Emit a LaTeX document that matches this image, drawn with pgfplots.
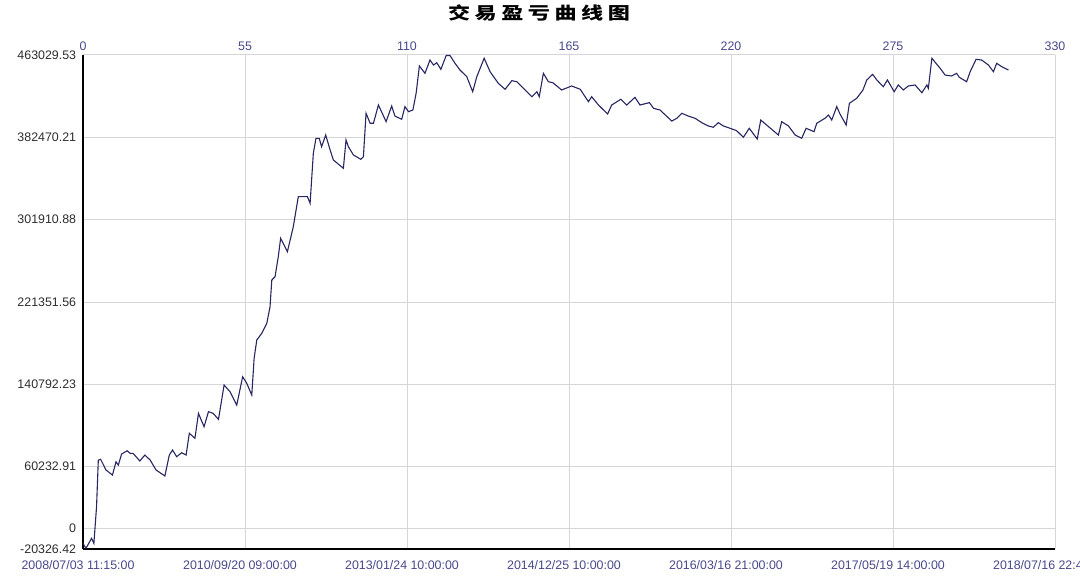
\documentclass[border=0pt]{standalone}
\usepackage{pgfplots}
\pgfplotsset{compat=1.18}
\usepackage{graphicx}
\usepackage{fontspec}
\setmainfont{Liberation Sans}
\newfontfamily\cjk{Noto Sans CJK SC}
\definecolor{gridc}{RGB}{214,214,218}
\definecolor{lblue}{RGB}{72,72,140}
\definecolor{ylab}{RGB}{45,45,45}
\definecolor{curve}{RGB}{38,38,98}
\begin{document}
\begin{tikzpicture}
\begin{axis}[
  scale only axis,
  width=486pt, height=247pt,
  xmin=0, xmax=330,
  ymin=-20326.42, ymax=463029.53,
  axis x line*=bottom, axis y line*=left,
  axis line style={-, black, line width=0.7pt},
  xtick={0,55,110,165,220,275,330},
  xticklabels={2008/07/03 11:15:00, 2010/09/20 09:00:00, 2013/01/24 10:00:00, 2014/12/25 10:00:00, 2016/03/16 21:00:00, 2017/05/19 14:00:00, 2018/07/16 22:45:00},
  ytick={-20326.42,0,60232.91,140792.23,221351.56,301910.88,382470.21,463029.53},
  yticklabels={-20326.42,0,60232.91,140792.23,221351.56,301910.88,382470.21,463029.53},
  scaled ticks=false,
  major tick length=0pt,
  grid=major,
  major grid style={gridc, line width=0.5pt},
  xticklabel style={font=\fontsize{6.2}{7}\selectfont, text=lblue, anchor=center, inner sep=0pt, yshift=-8pt, xshift=-2.5pt},
  yticklabel style={font=\fontsize{6.2}{7}\selectfont, text=ylab, anchor=east, inner sep=0pt, xshift=-3.25pt},
  clip=false,
]
\addplot[curve, line width=0.55pt] coordinates {
(0,-14800) (1.0,-19700) (2.9,-9900) (3.7,-14800) (4.6,21000) (5.2,66700) (6.0,67400) (7.8,57000)
(10.0,52000) (11.2,65000) (12.0,61800) (13.1,72600) (15.0,75800) (16.0,73300) (17.0,73300) (19.3,65800)
(21.0,71600) (22.8,66700) (24.8,57000) (27.8,51100) (29.3,71600) (30.4,76500) (31.8,70000) (33.5,73900)
(35.0,71600) (36.1,92900) (38.0,88000) (39.2,112400) (41.1,99300) (42.6,114000) (44.2,112400) (46.0,106500)
(47.9,140100) (49.9,133600) (52.2,120500) (54.2,148200) (55.6,141800) (57.3,130300) (58.1,166200) (59.0,184200)
(60.7,190700) (62.4,200500) (63.5,216700) (64.1,242900) (65.2,246100) (66.3,265700) (67.1,283700) (69.4,270600)
(71.4,295000) (73.1,324400) (76.2,324400) (77.1,317900) (78.2,366800) (79.1,381500) (80.2,381500) (81.0,373300)
(82.4,384700) (83.9,370100) (85.0,360300) (88.4,352200) (89.3,379900) (90.1,373300) (91.8,365200) (94.3,361000)
(95.2,363500) (96.1,406000) (97.5,396200) (98.6,396200) (100.3,414100) (102.9,397800) (104.8,413100) (105.9,403300)
(108.2,400100) (109.3,412500) (110.5,407600) (112.0,409200) (113.1,425600) (114.2,452300) (116.1,445100) (117.8,458100)
(119.0,453200) (120.1,455500) (121.5,449000) (123.3,462500) (124.6,462500) (126.3,454900) (128.0,448300) (130.3,441800)
(132.3,427100) (133.7,441800) (136.2,459800) (138.2,446700) (141.0,435300) (143.3,429500) (145.6,437900) (147.3,436900)
(152.4,422200) (154.1,427100) (154.9,422200) (156.3,445100) (158.0,436900) (159.5,435900) (162.5,428800) (165.9,432700)
(168.8,429500) (171.6,417300) (172.7,422200) (175.0,414100) (178.1,405300) (179.5,414100) (182.6,419700) (184.6,414100)
(187.4,421600) (189.1,414100) (192.3,416400) (193.7,410900) (195.9,409200) (199.9,398400) (201.6,401100) (203.3,406000)
(205.5,403300) (207.8,401100) (210.1,396800) (212.3,393600) (214.0,392300) (215.7,396800) (217.4,393600) (219.7,391300)
(221.9,389000) (224.2,382500) (226.2,391300) (228.9,380800) (230.1,399400) (236.1,384700) (237.2,397800) (239.5,393600)
(241.8,384700) (244.0,381500) (245.5,391300) (248.2,388000) (249.1,396200) (251.9,401100) (253.1,404300) (254.2,399400)
(255.9,412500) (257.0,405300) (259.1,394500) (260.2,415800) (262.7,420700) (264.8,428800) (266.1,438600) (268.1,444100)
(269.5,438600) (271.7,432000) (273.1,438600) (275.4,427100) (276.8,433700) (278.5,428800) (280.2,432700) (282.5,433700)
(284.8,426100) (286.5,433700) (287.0,430400) (288.2,459800) (291.0,450000) (292.7,443400) (294.9,442500) (296.6,445100)
(297.5,441200) (300.0,436900) (301.2,446700) (303.2,458800) (305.1,458100) (307.4,453200) (309.1,446700) (310.2,454900)
(311.9,451600) (314.2,448300)
};
\end{axis}
\begin{axis}[
  scale only axis,
  width=486pt, height=247pt,
  xmin=0, xmax=330,
  ymin=-20326.42, ymax=463029.53,
  axis x line*=top,
  axis y line=none,
  ytick=\empty,
  scaled ticks=false,
  axis line style={draw=none},
  xtick={0,55,110,165,220,275,330},
  major tick length=0pt,
  /pgf/number format/assume math mode=true,
  xticklabel style={font=\fontsize{6.2}{7}\selectfont, text=lblue, anchor=center, inner sep=0pt, yshift=4.25pt},
]
\addplot[draw=none] coordinates {(0,0) (330,0)};
\end{axis}
\node[font=\cjk\bfseries\fontsize{8.5}{10}\selectfont, inner sep=0pt] at ([shift={(228pt,21.25pt)}]current axis.north west)
  {\scalebox{1.3}[1]{交\hspace{1.75pt}易\hspace{1.75pt}盈\hspace{1.75pt}亏\hspace{1.75pt}曲\hspace{1.75pt}线\hspace{1.75pt}图}};
\pgfresetboundingbox
\useasboundingbox ([shift={(-41.5pt,-18pt)}]current axis.south west) rectangle ([shift={(12.5pt,27.5pt)}]current axis.north east);
\end{tikzpicture}
\end{document}
